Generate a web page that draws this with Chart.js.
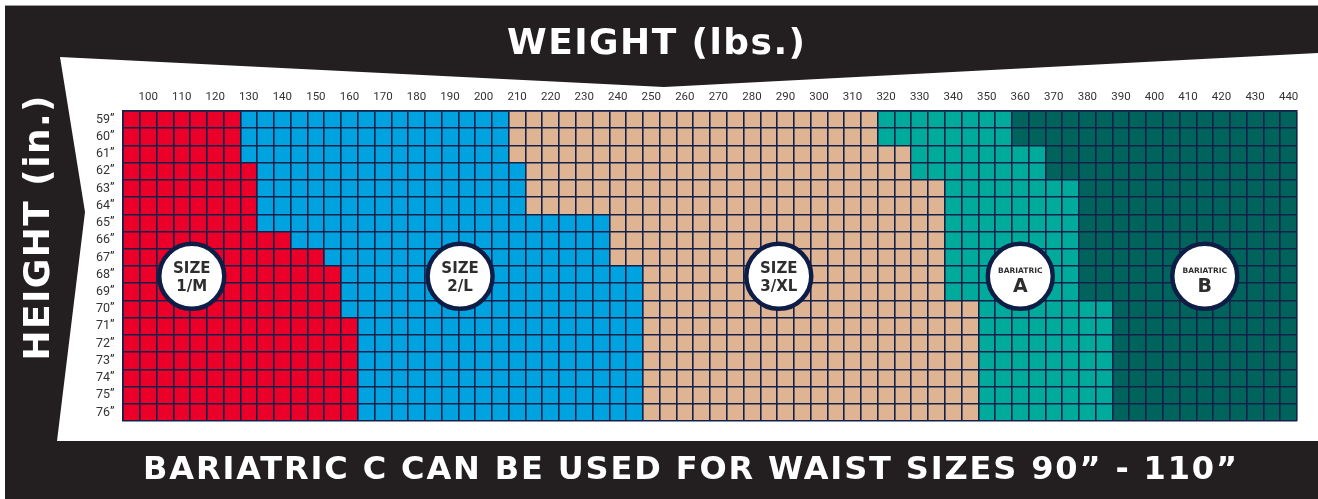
<!DOCTYPE html>
<html><head><meta charset="utf-8">
<script src="https://cdn.jsdelivr.net/npm/chart.js@4.4.0/dist/chart.umd.min.js"></script>
<style>html,body{margin:0;padding:0;background:#fff;overflow:hidden}</style>
</head><body>
<canvas id="c" width="1318" height="499"></canvas>
<script>
// ---------- data ----------
const heightLabels = ['59”','60”','61”','62”','63”','64”','65”','66”','67”','68”','69”','70”','71”','72”','73”','74”','75”','76”'];
const weightLabels = [100,110,120,130,140,150,160,170,180,190,200,210,220,230,240,250,260,270,280,290,300,310,320,330,340,350,360,370,380,390,400,410,420,430,440];
const weightFirst = 95;   // first 5-lb column
const weightLast = 440;   // last 5-lb column
const weightStep = 5;
// heaviest weight column (lbs) of each size, per height row
const size1M   = [125,125,125,130,130,130,130,140,150,155,155,155,160,160,160,160,160,160];
const size2L   = [205,205,205,210,210,210,235,235,235,245,245,245,245,245,245,245,245,245];
const size3XL  = [315,315,325,325,335,335,335,335,335,335,335,345,345,345,345,345,345,345];
const bariA    = [355,355,365,365,375,375,375,375,375,375,375,385,385,385,385,385,385,385];
const bariB    = [440,440,440,440,440,440,440,440,440,440,440,440,440,440,440,440,440,440];
const sizeColors = ['#ea0029','#00a3df','#deb493','#00ab9c','#00645c'];
// badge labels and their anchor (weight, row index)
const badgeTop    = ['SIZE','SIZE','SIZE','BARIATRIC','BARIATRIC'];
const badgeBottom = ['1/M','2/L','3/XL','A','B'];
const badgeWeight = [113,193,288,360,415];
const badgeRow    = [9.1,9.1,9.1,9.1,9.1];

// ---------- build ----------
const half = weightStep/2;
const seriesMax = [size1M,size2L,size3XL,bariA,bariB];
const datasets = seriesMax.map((arr,k)=>({
  data: arr.map((mx,i)=>[ (k===0 ? weightFirst : seriesMax[k-1][i] + weightStep) - half, mx + half ]),
  backgroundColor: sizeColors[k],
  borderWidth: 0,
  borderSkipped: false,
  barPercentage: 1,
  categoryPercentage: 1,
  grouped: false
}));

const GRID = '#13204a';

function fitText(ctx, text, cx, cy, targetW, size, family){
  ctx.letterSpacing = '0px';
  ctx.font = `bold ${size}px ${family}`;
  let w = ctx.measureText(text).width;
  if (w > targetW){ size = size*targetW/w; ctx.font = `bold ${size}px ${family}`; w = ctx.measureText(text).width; }
  const n = text.length;
  const ls = n>1 ? Math.max(0,(targetW - w)/(n-1)) : 0;
  ctx.letterSpacing = ls + 'px';
  ctx.textAlign = 'left';
  ctx.textBaseline = 'middle';
  ctx.fillText(text, cx - (w + ls*(n-1))/2, cy);
  ctx.letterSpacing = '0px';
}

const deco = {
  id:'deco',
  beforeDraw(chart){
    const ctx = chart.ctx, W = chart.width, H = chart.height;
    ctx.save();
    ctx.fillStyle = '#ffffff'; ctx.fillRect(0,0,W,H);
    ctx.fillStyle = '#9a9a9a'; ctx.fillRect(5,5,W-5,1);
    ctx.fillStyle = '#231f20'; ctx.fillRect(5,6,W-5,H-6);
    ctx.fillStyle = '#ffffff';
    ctx.beginPath();
    ctx.moveTo(60,57); ctx.lineTo(664,87); ctx.lineTo(W,53); ctx.lineTo(W,441);
    ctx.lineTo(57,441); ctx.lineTo(85,212); ctx.closePath(); ctx.fill();
    // titles
    ctx.fillStyle = '#ffffff';
    const fam = '"DejaVu Sans", sans-serif';
    fitText(ctx, 'WEIGHT (lbs.)', 656, 45, 298, 36, fam);
    fitText(ctx, 'BARIATRIC C CAN BE USED FOR WAIST SIZES 90” - 110”', 690, 471, 1094, 32, fam);
    ctx.save();
    ctx.translate(40, 228); ctx.rotate(-Math.PI/2);
    fitText(ctx, 'HEIGHT (in.)', 0, 0, 265, 36, fam);
    ctx.restore();
    ctx.restore();
  },
  afterDraw(chart){
    const ctx = chart.ctx, xs = chart.scales.x, ys = chart.scales.y;
    ctx.save();
    for (let i=0;i<badgeTop.length;i++){
      const x = xs.getPixelForValue(badgeWeight[i]);
      const y = ys.getPixelForValue(badgeRow[i]);
      ctx.beginPath(); ctx.arc(x,y,32.5,0,Math.PI*2);
      ctx.fillStyle = '#ffffff'; ctx.fill();
      ctx.lineWidth = 4.5; ctx.strokeStyle = '#0e1d45'; ctx.stroke();
      ctx.fillStyle = '#2e2e2e'; ctx.textAlign = 'center'; ctx.textBaseline = 'middle';
      const fam = '"DejaVu Sans", sans-serif';
      if (badgeTop[i] === 'SIZE'){
        ctx.font = `bold 15px ${fam}`;
        ctx.fillText(badgeTop[i], x, y-7.5);
        ctx.fillText(badgeBottom[i], x, y+10.5);
      } else {
        ctx.font = `bold 7.5px ${fam}`;
        ctx.fillText(badgeTop[i], x, y-5);
        ctx.font = `bold 19px ${fam}`;
        ctx.fillText(badgeBottom[i], x, y+11);
      }
    }
    ctx.restore();
  }
};

new Chart(document.getElementById('c'), {
  type: 'bar',
  data: { labels: heightLabels, datasets },
  options: {
    indexAxis: 'y',
    responsive: false,
    animation: false,
    devicePixelRatio: 1,
    layout: { padding: { left: 96, top: 80, right: 21, bottom: 78 } },
    plugins: { legend: { display: false }, tooltip: { enabled: false } },
    scales: {
      x: {
        type: 'linear', position: 'top',
        min: weightFirst - half, max: weightLast + half,
        afterBuildTicks(scale){
          const t = [];
          for (let v = weightFirst - half; v <= weightLast + half + 1e-9; v += half) t.push({value: v});
          scale.ticks = t;
        },
        afterFit(scale){ scale.height = 31; },
        grid: {
          z: 1, drawTicks: false, lineWidth: 1.6,
          color: (c) => (c.tick && Math.abs(((c.tick.value - half) % weightStep)) < 1e-6) ? GRID : 'rgba(0,0,0,0)'
        },
        border: { z: 1, color: GRID, width: 1.6 },
        ticks: {
          autoSkip: false, maxRotation: 0, padding: 7, color: '#333',
          font: { family: '"Liberation Sans Narrow", "Roboto", sans-serif', size: 11.5 },
          callback: (v) => weightLabels.includes(v) ? String(v) : ''
        }
      },
      y: {
        type: 'category',
        afterFit(scale){ scale.width = 27; },
        grid: { z: 1, drawTicks: false, lineWidth: 1.6, color: GRID, offset: true },
        border: { z: 1, color: GRID, width: 1.6 },
        ticks: {
          autoSkip: false, crossAlign: 'far', padding: 4, color: '#333',
          font: { family: '"Liberation Sans Narrow", "Roboto", sans-serif', size: 12.5 }
        }
      }
    }
  },
  plugins: [deco]
});
</script>
</body></html>
